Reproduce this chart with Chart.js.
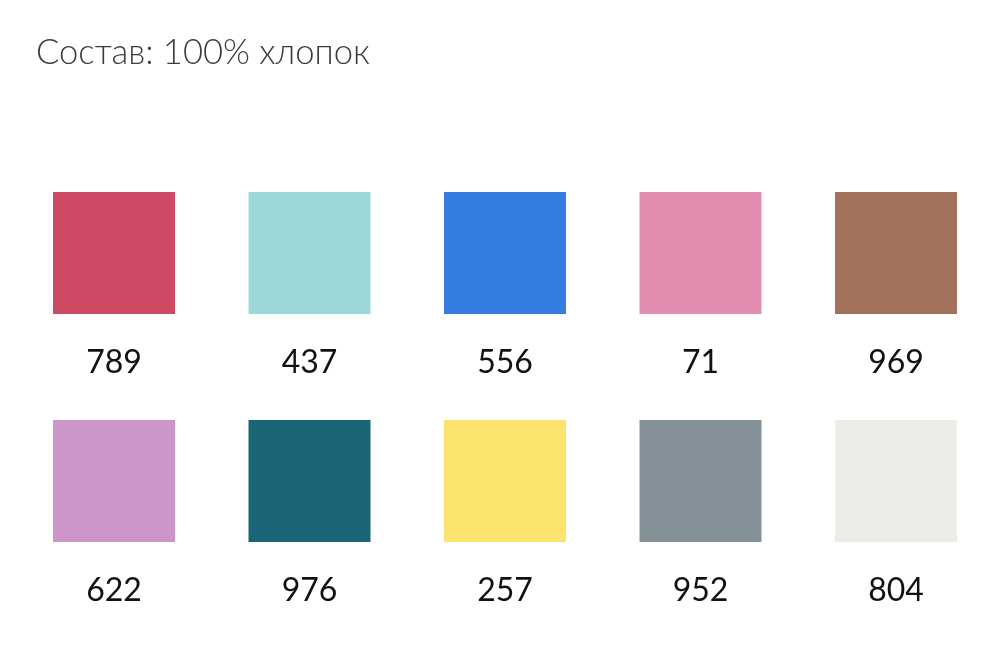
<!DOCTYPE html>
<html>
<head>
<meta charset="utf-8">
<script src="https://cdn.jsdelivr.net/npm/chart.js@4/dist/chart.umd.min.js"></script>
<style>
html,body{margin:0;padding:0;background:#fff;}
#wrap{width:998px;height:648px;position:relative;}
</style>
</head>
<body>
<div id="wrap"><canvas id="c"></canvas></div>
<script>
const titleText = "Состав: 100% хлопок";
const codes = ["789","437","556","71","969","622","976","257","952","804"];
const colors = ["#CC4A63","#9DD7D8","#347DE1","#E28CAF","#A2725D","#CE96C8","#1A6677","#FCE36D","#859198","#EDECE9"];
const cols = [0,1,2,3,4,0,1,2,3,4];
const rows = [0,0,0,0,0,1,1,1,1,1];

const points = codes.map((c,i)=>({x:cols[i], y:rows[i], code:c}));

const labelPlugin = {
  id:'swatchLabels',
  afterDatasetsDraw(chart){
    const ctx = chart.ctx;
    const xs = chart.scales.x, ys = chart.scales.y;
    ctx.save();
    ctx.fillStyle = '#111';
    ctx.font = '400 32px Lato, "Open Sans", sans-serif';
    ctx.textAlign = 'center';
    ctx.textBaseline = 'alphabetic';
    points.forEach(p=>{
      const px = xs.getPixelForValue(p.x);
      const py = ys.getPixelForValue(p.y + 0.474);
      ctx.fillText(p.code, px, py + 12);
    });
    ctx.fillStyle = '#3c3c3c';
    ctx.font = '300 34.6px Lato, "Open Sans", sans-serif';
    ctx.textAlign = 'left';
    ctx.fillText(titleText, 36, 64);
    ctx.restore();
  }
};

new Chart(document.getElementById('c'), {
  type:'scatter',
  data:{
    datasets:[{
      data: points,
      pointStyle:'rect',
      pointRadius: 86.27,
      pointHoverRadius: 86.27,
      pointBackgroundColor: colors,
      pointBorderWidth: 0,
      pointHoverBorderWidth: 0,
      borderWidth:0,
      clip:false
    }]
  },
  options:{
    responsive:true,
    maintainAspectRatio:false,
    animation:false,
    events:[],
    layout:{padding:0, autoPadding:false},
    plugins:{legend:{display:false}, tooltip:{enabled:false}, title:{display:false}},
    scales:{
      x:{type:'linear', display:false, min:-114/195.5, max:-114/195.5 + 998/195.5},
      y:{type:'linear', display:false, reverse:true, min:-253/228, max:-253/228 + 648/228}
    }
  },
  plugins:[labelPlugin]
});
</script>
</body>
</html>
